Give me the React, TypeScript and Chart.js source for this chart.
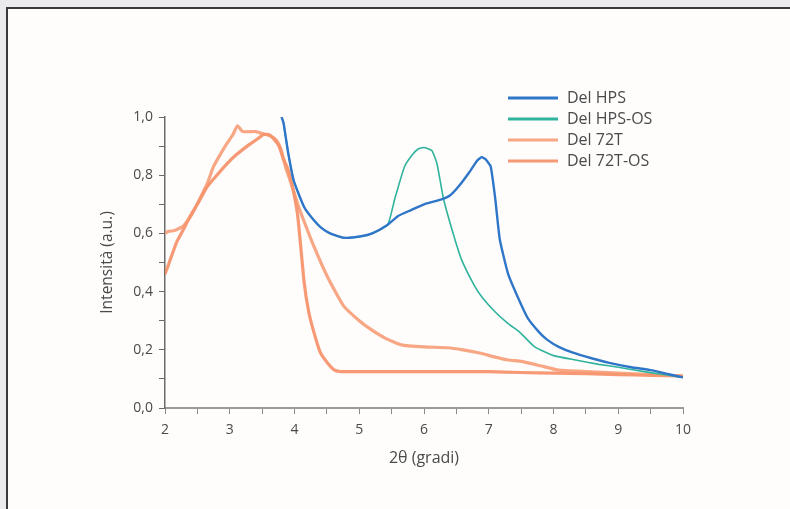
import React, { useEffect, useRef } from "react";
import { Chart, registerables } from "chart.js";

Chart.register(...registerables);

// ---- Data ----
const seriesNames = ["Del HPS", "Del HPS-OS", "Del 72T", "Del 72T-OS"];

const hpsX = [3.8, 3.83, 3.9, 3.99, 4.15, 4.3, 4.41, 4.55, 4.76, 5.03, 5.2, 5.44, 5.6, 5.8, 6.0, 6.27, 6.4, 6.53, 6.7, 6.82, 6.89, 6.95, 7.03, 7.1, 7.17, 7.3, 7.47, 7.6, 7.78, 7.9, 8.08, 8.3, 8.6, 8.86, 9.2, 9.5, 9.8, 10.0];
const hpsY = [1.0, 0.98, 0.88, 0.78, 0.69, 0.645, 0.62, 0.6, 0.585, 0.59, 0.6, 0.63, 0.66, 0.68, 0.7, 0.717, 0.73, 0.76, 0.81, 0.85, 0.862, 0.855, 0.83, 0.72, 0.58, 0.46, 0.37, 0.31, 0.26, 0.235, 0.21, 0.19, 0.17, 0.155, 0.14, 0.13, 0.115, 0.105];

const hpsOsX = [3.8, 3.83, 3.9, 3.99, 4.15, 4.3, 4.41, 4.55, 4.76, 5.03, 5.2, 5.44, 5.55, 5.7, 5.82, 5.91, 6.0, 6.12, 6.2, 6.3, 6.45, 6.58, 6.78, 6.9, 7.1, 7.3, 7.48, 7.71, 8.0, 8.34, 8.7, 9.0, 9.4, 9.7, 10.0];
const hpsOsY = [1.0, 0.98, 0.88, 0.78, 0.69, 0.645, 0.62, 0.6, 0.585, 0.59, 0.6, 0.63, 0.72, 0.83, 0.87, 0.89, 0.895, 0.885, 0.84, 0.72, 0.6, 0.51, 0.42, 0.38, 0.33, 0.29, 0.26, 0.21, 0.18, 0.165, 0.15, 0.14, 0.125, 0.115, 0.105];

const t72X = [2.0, 2.05, 2.15, 2.28, 2.4, 2.54, 2.65, 2.75, 2.85, 2.96, 3.05, 3.12, 3.2, 3.4, 3.55, 3.63, 3.72, 3.79, 3.86, 3.95, 4.05, 4.15, 4.3, 4.51, 4.76, 5.0, 5.18, 5.4, 5.65, 6.0, 6.37, 6.6, 6.84, 7.1, 7.3, 7.51, 7.8, 8.08, 8.5, 9.0, 9.5, 10.0];
const t72Y = [0.6, 0.607, 0.61, 0.625, 0.66, 0.72, 0.77, 0.83, 0.87, 0.91, 0.94, 0.97, 0.95, 0.95, 0.94, 0.935, 0.92, 0.89, 0.83, 0.77, 0.7, 0.64, 0.555, 0.45, 0.35, 0.3, 0.27, 0.24, 0.217, 0.21, 0.207, 0.2, 0.19, 0.175, 0.165, 0.16, 0.145, 0.13, 0.125, 0.12, 0.115, 0.11];

const t72OsX = [2.0, 2.05, 2.18, 2.3, 2.39, 2.5, 2.65, 2.8, 2.96, 3.1, 3.27, 3.4, 3.52, 3.6, 3.68, 3.76, 3.83, 3.9, 3.97, 4.05, 4.15, 4.22, 4.3, 4.4, 4.51, 4.62, 4.72, 5.0, 5.5, 6.0, 6.5, 7.0, 7.5, 8.0, 8.5, 9.0, 9.5, 10.0];
const t72OsY = [0.46, 0.49, 0.57, 0.62, 0.66, 0.7, 0.76, 0.8, 0.84, 0.87, 0.9, 0.92, 0.94, 0.94, 0.925, 0.9, 0.855, 0.82, 0.76, 0.66, 0.43, 0.33, 0.26, 0.19, 0.155, 0.13, 0.125, 0.125, 0.125, 0.125, 0.125, 0.125, 0.122, 0.12, 0.118, 0.115, 0.112, 0.11];

const xTickValues = [2, 3, 4, 5, 6, 7, 8, 9, 10];
const yTickValues = [0, 0.2, 0.4, 0.6, 0.8, 1.0];
const xTitle = "2θ (gradi)";
const yTitle = "Intensità (a.u.)";

const colors = ["#2f76c9", "#2fb39c", "rgba(247,150,110,0.85)", "rgba(244,135,92,0.85)"];
const widths = [2.4, 1.6, 3.2, 3.2];

const FONT = '"Open Sans", "DejaVu Sans", sans-serif';

const toPts = (xs: number[], ys: number[]) => xs.map((x, i) => ({ x, y: ys[i] }));

const legendPlugin = {
  id: "customLegend",
  afterDraw(chart: any) {
    const ctx = chart.ctx;
    ctx.save();
    chart.data.datasets.forEach((ds: any, i: number) => {
      const y = 98 + i * 21;
      ctx.strokeStyle = ds.borderColor;
      ctx.lineWidth = 3;
      ctx.beginPath();
      ctx.moveTo(508, y);
      ctx.lineTo(558, y);
      ctx.stroke();
      ctx.fillStyle = "#4a4a4a";
      ctx.font = `16px ${FONT}`;
      ctx.textBaseline = "middle";
      ctx.textAlign = "left";
      ctx.fillText(ds.label, 567, y);
    });
    ctx.restore();
  },
};

export default function App() {
  const ref = useRef<HTMLCanvasElement>(null);
  useEffect(() => {
    if (!ref.current) return;
    const chart = new Chart(ref.current, {
      type: "line",
      data: {
        datasets: [
          { label: seriesNames[0], data: toPts(hpsX, hpsY) },
          { label: seriesNames[1], data: toPts(hpsOsX, hpsOsY) },
          { label: seriesNames[2], data: toPts(t72X, t72Y) },
          { label: seriesNames[3], data: toPts(t72OsX, t72OsY) },
        ].map((d, i) => ({
          ...d,
          borderColor: colors[i],
          borderWidth: widths[i],
          pointRadius: 0,
          tension: 0.15,
          fill: false,
        })),
      },
      options: {
        animation: false,
        responsive: false,
        maintainAspectRatio: false,
        layout: { padding: { left: 98, top: 117, right: 107, bottom: 41 } },
        plugins: { legend: { display: false }, tooltip: { enabled: false } },
        scales: {
          x: {
            type: "linear",
            min: 2,
            max: 10,
            afterFit: (s: any) => { s.height = 60; },
            ticks: {
              stepSize: 0.5,
              autoSkip: false,
              maxRotation: 0,
              padding: 8,
              color: "#4a4a4a",
              font: { family: FONT, size: 14 },
              callback: (v: any) => (xTickValues.includes(Number(v)) ? String(v) : ""),
            },
            grid: { drawOnChartArea: false, drawTicks: true, tickLength: 6, color: "#8a8a8a", lineWidth: 1 },
            border: { display: true, color: "#9a9a9a", width: 2 },
            title: { display: true, text: xTitle, color: "#4a4a4a", font: { family: FONT, size: 16 }, padding: 0 },
          },
          y: {
            type: "linear",
            min: 0,
            max: 1,
            afterFit: (s: any) => { s.width = 67; },
            ticks: {
              stepSize: 0.1,
              autoSkip: false,
              padding: 6,
              color: "#4a4a4a",
              font: { family: FONT, size: 14 },
              callback: (v: any) => {
                const n = Math.round(Number(v) * 10) / 10;
                return yTickValues.some((t) => Math.abs(t - n) < 1e-6) ? n.toFixed(1).replace(".", ",") : "";
              },
            },
            grid: { drawOnChartArea: false, drawTicks: true, tickLength: 6, color: "#6a6a6a", lineWidth: 1 },
            border: { display: true, color: "#6a6a6a", width: 1.5 },
            title: { display: true, text: yTitle, color: "#4a4a4a", font: { family: FONT, size: 15.5 }, padding: 0 },
          },
        },
      },
      plugins: [legendPlugin],
    } as any);
    return () => chart.destroy();
  }, []);

  return (
    <div style={{ position: "fixed", left: 0, top: 0, width: 790, height: 509, background: "#ebebed", overflow: "hidden" }}>
      <div style={{ position: "absolute", left: 6, top: 7, width: 800, height: 520, border: "2px solid #3a3a3a", background: "#fefdfc" }} />
      <canvas ref={ref} width={790} height={509} style={{ position: "absolute", left: 0, top: 0, width: 790, height: 509 }} />
    </div>
  );
}
